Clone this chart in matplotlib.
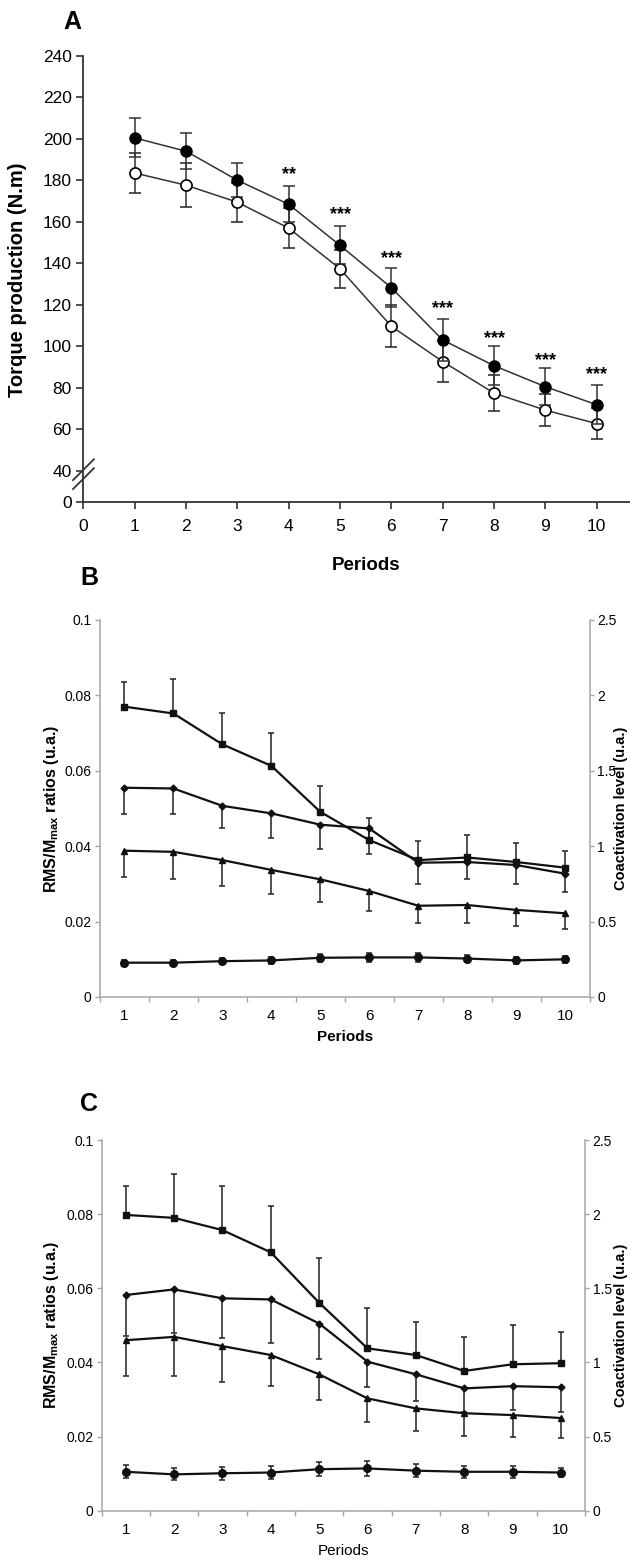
import numpy as np
import matplotlib
matplotlib.use("Agg")
import matplotlib.pyplot as plt
from matplotlib.transforms import offset_copy

plt.rcParams["font.family"] = ["Liberation Sans", "DejaVu Sans"]
NARROW = ["Liberation Sans Narrow", "Liberation Sans", "DejaVu Sans"]

periods = np.arange(1, 11)
period_labels = [str(p) for p in periods]

# Panel A - torque production (N.m), mean and SD
torque_filled = [200.5, 194.1, 180.1, 168.5, 148.7, 128.3, 103.1, 90.7, 80.6, 71.9]
torque_filled_sd = [9.4, 8.6, 8.1, 8.7, 9.2, 9.3, 9.9, 9.3, 9.0, 9.5]
torque_open = [183.6, 177.7, 169.5, 157.0, 137.4, 109.7, 92.7, 77.5, 69.3, 62.8]
torque_open_sd = [9.6, 10.5, 9.5, 9.5, 9.1, 10.1, 10.0, 8.5, 7.6, 7.5]
star_periods = [4, 5, 6, 7, 8, 9, 10]
star_text = ["**", "***", "***", "***", "***", "***", "***"]
star_y = [185.7, 166.4, 145.5, 121.3, 106.8, 96.4, 89.6]
torque_ticks = [0, 40, 60, 80, 100, 120, 140, 160, 180, 200, 220, 240]

# Panel B - RMS/Mmax ratios (u.a.)
b_square = [0.0770, 0.0752, 0.0670, 0.0613, 0.0491, 0.0416, 0.0363, 0.0370, 0.0358, 0.0343]
b_square_sd = [0.0066, 0.0092, 0.0082, 0.0086, 0.0069, 0.0059, 0.0052, 0.0059, 0.0050, 0.0045]
b_diamond = [0.0555, 0.0553, 0.0507, 0.0487, 0.0457, 0.0447, 0.0356, 0.0358, 0.0350, 0.0327]
b_diamond_sd = [0.0070, 0.0068, 0.0060, 0.0065, 0.0064, 0.0068, 0.0055, 0.0046, 0.0050, 0.0049]
b_triangle = [0.0388, 0.0385, 0.0363, 0.0337, 0.0312, 0.0281, 0.0242, 0.0244, 0.0231, 0.0222]
b_triangle_sd = [0.0069, 0.0071, 0.0069, 0.0065, 0.0059, 0.0053, 0.0047, 0.0047, 0.0043, 0.0042]
b_circle = [0.0091, 0.0091, 0.0095, 0.0097, 0.0104, 0.0105, 0.0105, 0.0102, 0.0097, 0.0100]
b_circle_sd = [0.0008, 0.0008, 0.0008, 0.0009, 0.0011, 0.0011, 0.0011, 0.0010, 0.0010, 0.0010]

# Panel C - RMS/Mmax ratios (u.a.)
c_square = [0.0798, 0.0790, 0.0757, 0.0697, 0.0561, 0.0438, 0.0420, 0.0377, 0.0395, 0.0398]
c_square_sd = [0.0078, 0.0118, 0.0120, 0.0126, 0.0120, 0.0110, 0.0088, 0.0092, 0.0106, 0.0085]
c_diamond = [0.0582, 0.0597, 0.0573, 0.0570, 0.0505, 0.0402, 0.0368, 0.0330, 0.0336, 0.0333]
c_diamond_sd = [0.0111, 0.0117, 0.0108, 0.0118, 0.0097, 0.0069, 0.0071, 0.0065, 0.0063, 0.0068]
c_triangle = [0.0460, 0.0469, 0.0444, 0.0420, 0.0368, 0.0303, 0.0276, 0.0263, 0.0258, 0.0250]
c_triangle_sd = [0.0096, 0.0105, 0.0096, 0.0084, 0.0069, 0.0063, 0.0061, 0.0062, 0.0058, 0.0053]
c_circle = [0.0105, 0.0098, 0.0101, 0.0103, 0.0112, 0.0114, 0.0108, 0.0105, 0.0105, 0.0103]
c_circle_sd = [0.0017, 0.0016, 0.0017, 0.0017, 0.0019, 0.0020, 0.0018, 0.0016, 0.0016, 0.0013]

rms_ticks = [0, 0.02, 0.04, 0.06, 0.08, 0.1]
rms_labels = ["0", "0.02", "0.04", "0.06", "0.08", "0.1"]
coact_ticks = [0, 0.5, 1, 1.5, 2, 2.5]
coact_labels = ["0", "0.5", "1", "1.5", "2", "2.5"]

GREY = "#a6a6a6"
DARK = "#333333"
W, H = 630, 1560

fig = plt.figure(figsize=(6.3, 15.6), dpi=100)


# ---------------- Panel A ----------------
def brk_fwd(v):
    v = np.asarray(v, dtype=float)
    return np.where(v >= 40, v - 25, v * 15 / 40)


def brk_inv(u):
    u = np.asarray(u, dtype=float)
    return np.where(u >= 15, u + 25, u * 40 / 15)


axa = fig.add_axes([0.1325, 0.6782, 0.8675, 0.2859])
axa.set_yscale("function", functions=(brk_fwd, brk_inv))
axa.set_ylim(0, 240)
axa.set_xlim(0, 10.65)

axa.errorbar(periods, torque_open, yerr=torque_open_sd, fmt="-o", color=DARK,
             mfc="white", mec="black", mew=1.2, ms=8, lw=1.1, elinewidth=1.1,
             capsize=4.5, capthick=1.1, zorder=3)
axa.errorbar(periods, torque_filled, yerr=torque_filled_sd, fmt="-o", color=DARK,
             mfc="black", mec="black", ms=8, lw=1.1, elinewidth=1.1,
             capsize=4.5, capthick=1.1, zorder=4)

star_tr = offset_copy(axa.transData, fig=fig, y=-4.5, units="points")
for p, s, y in zip(star_periods, star_text, star_y):
    axa.text(p, y, s, ha="center", va="center", fontsize=13, fontweight="bold",
             transform=star_tr)

axa.set_xticks(range(0, 11))
axa.set_yticks(torque_ticks)
axa.set_yticklabels([str(t) for t in torque_ticks])
axa.tick_params(direction="out", length=5, width=1.2, color=DARK, labelsize=12.5)
axa.tick_params(axis="x", pad=7)
axa.tick_params(axis="y", pad=3.5)
for side in ["top", "right"]:
    axa.spines[side].set_visible(False)
for side in ["left", "bottom"]:
    axa.spines[side].set_color(DARK)
    axa.spines[side].set_linewidth(1.3)

# axis break marks
for y0 in (0.029, 0.049):
    axa.plot([-0.0192, 0.0192], [y0, y0 + 0.047], transform=axa.transAxes,
             clip_on=False, color=DARK, lw=1.3, zorder=5)

fig.text(72 / W, 1 - 22 / H, "A", fontsize=18, fontweight="bold",
         ha="center", va="center")
fig.text(18 / W, 1 - 280 / H, "Torque production (N.m)", rotation=90,
         fontsize=14.5, fontweight="bold", ha="center", va="center")
fig.text(366 / W, 1 - 565 / H, "Periods", fontsize=13.5, fontweight="bold",
         ha="center", va="center")


# ---------------- Panels B and C ----------------
def error_bars(ax, y, sd, up, down):
    y = np.asarray(y)
    sd = np.asarray(sd)
    hi = y + sd if up else y
    lo = y - sd if down else y
    ax.vlines(periods, lo, hi, color="#222222", lw=1.1, zorder=2)
    if up:
        ax.plot(periods, hi, ls="none", marker="_", ms=4, mew=1.1, color="#222222")
    if down:
        ax.plot(periods, lo, ls="none", marker="_", ms=4, mew=1.1, color="#222222")


def emg_panel(rect, series, xlabel_weight, xlabel_pad):
    ax = fig.add_axes(rect)
    for vals, sd, marker, ms, up, down in series:
        error_bars(ax, vals, sd, up, down)
        ax.plot(periods, vals, "-", marker=marker, ms=ms, color="#111111",
                lw=1.6, zorder=3)
    ax.set_xlim(0.5, 10.5)
    ax.set_ylim(0, 0.1)
    ax.set_yticks(rms_ticks)
    ax.set_yticklabels(rms_labels, family=NARROW, fontsize=10)
    ax.set_xticks(np.arange(0.5, 11, 1))
    ax.set_xticklabels([])
    ax.set_xticks(periods, minor=True)
    ax.set_xticklabels(period_labels, minor=True, family=NARROW, fontsize=11)
    ax.tick_params(direction="out", length=3.5, width=1, color=GREY, pad=2.5)
    ax.tick_params(axis="x", which="minor", length=0, pad=9)
    for side in ["top", "right"]:
        ax.spines[side].set_visible(False)
    for side in ["left", "bottom"]:
        ax.spines[side].set_color(GREY)
        ax.spines[side].set_linewidth(1.1)
    ax.set_xlabel("Periods", fontsize=11, fontweight=xlabel_weight,
                  labelpad=xlabel_pad)

    ax2 = ax.twinx()
    ax2.set_ylim(0, 2.5)
    ax2.set_yticks(coact_ticks)
    ax2.set_yticklabels(coact_labels, family=NARROW, fontsize=10)
    ax2.tick_params(direction="out", length=3, width=1, color=GREY, pad=2.5)
    for side in ["top", "left", "bottom"]:
        ax2.spines[side].set_visible(False)
    ax2.spines["right"].set_color(GREY)
    ax2.spines["right"].set_linewidth(1.1)

    yc = rect[1] + rect[3] / 2
    fig.text(52 / W, yc, r"RMS/M$_{\mathregular{max}}$ ratios (u.a.)",
             rotation=90, fontsize=11.5, fontweight="bold",
             ha="center", va="center")
    fig.text(621 / W, yc, "Coactivation level (u.a.)", rotation=90,
             fontsize=10.5, fontweight="bold", ha="center", va="center")
    return ax


emg_panel([0.1587, 0.3609, 0.7772, 0.2417], [
    (b_square, b_square_sd, "s", 5, True, False),
    (b_diamond, b_diamond_sd, "D", 3.5, False, True),
    (b_triangle, b_triangle_sd, "^", 5, False, True),
    (b_circle, b_circle_sd, "o", 5.5, True, True),
], "bold", 5)
fig.text(89 / W, 1 - 578 / H, "B", fontsize=18, fontweight="bold",
         ha="center", va="center")

emg_panel([0.1613, 0.0316, 0.7673, 0.2376], [
    (c_square, c_square_sd, "s", 5, True, False),
    (c_diamond, c_diamond_sd, "D", 3.5, False, True),
    (c_triangle, c_triangle_sd, "^", 5, False, True),
    (c_circle, c_circle_sd, "o", 5.5, True, True),
], "normal", 5)
fig.text(89 / W, 1 - 1104 / H, "C", fontsize=18, fontweight="bold",
         ha="center", va="center")

fig.savefig("out.png", dpi=100)
